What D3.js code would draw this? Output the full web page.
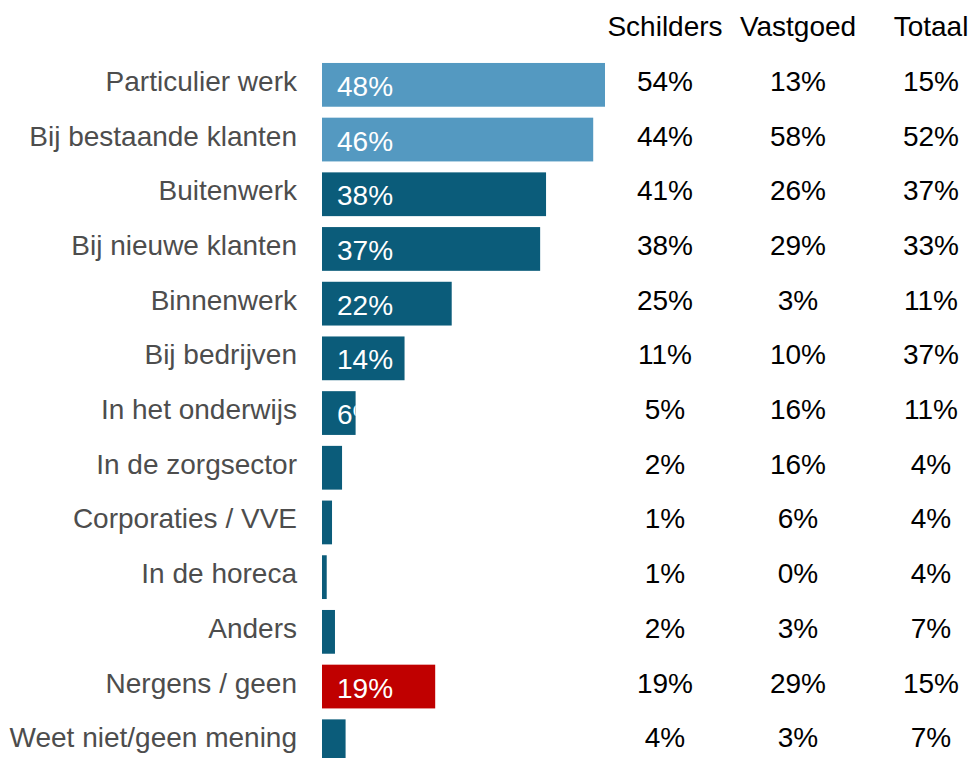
<!DOCTYPE html>
<html>
<head>
<meta charset="utf-8">
<script src="https://cdn.jsdelivr.net/npm/d3@7"></script>
<style>
  body { margin: 0; background: #fff; }
  svg { display: block; font-family: "Liberation Sans", Arial, sans-serif; }
</style>
</head>
<body>
<div id="chart"></div>
<script>
// data
const categories = ["Particulier werk", "Bij bestaande klanten", "Buitenwerk", "Bij nieuwe klanten",
  "Binnenwerk", "Bij bedrijven", "In het onderwijs", "In de zorgsector", "Corporaties / VVE",
  "In de horeca", "Anders", "Nergens / geen", "Weet niet/geen mening"];
const barValues = [48, 46, 38, 37, 22, 14, 5.7, 3.4, 1.7, 0.8, 2.2, 19.2, 4];
const columns = ["Schilders", "Vastgoed", "Totaal"];
const schilders = [54, 44, 41, 38, 25, 11, 5, 2, 1, 1, 2, 19, 4];
const vastgoed = [13, 58, 26, 29, 3, 10, 16, 16, 6, 0, 3, 29, 3];
const totaal = [15, 52, 37, 33, 11, 37, 11, 4, 4, 4, 7, 15, 7];
const lightCats = ["Particulier werk", "Bij bestaande klanten"];
const redCats = ["Nergens / geen"];

const width = 971, height = 758;
const fontSize = 28;
const step = 54.7;

const svg = d3.select("#chart").append("svg")
  .attr("width", width).attr("height", height);

const y = d3.scaleBand()
  .domain(categories)
  .range([57.5, 57.5 + step * categories.length])
  .paddingInner(0.2).paddingOuter(0.1);

const x = d3.scaleLinear().domain([0, 48]).range([322, 605]);

const color = c => redCats.includes(c) ? "#c00000"
  : lightCats.includes(c) ? "#5499c1" : "#0b5c7a";

const rows = categories.map((c, i) => ({ cat: c, v: barValues[i], i }));

// clip paths so labels are cut at the bar end
const defs = svg.append("defs");
defs.selectAll("clipPath").data(rows).join("clipPath")
  .attr("id", d => "clip" + d.i)
  .append("rect")
  .attr("x", x(0)).attr("y", d => y(d.cat))
  .attr("width", d => x(d.v) - x(0)).attr("height", y.bandwidth());

// category labels
svg.append("g").selectAll("text").data(rows).join("text")
  .attr("x", 297)
  .attr("y", d => y(d.cat) + y.bandwidth() / 2 + 6)
  .attr("text-anchor", "end")
  .attr("font-size", fontSize)
  .attr("fill", "#4d4d4d")
  .text(d => d.cat);

// bars
svg.append("g").selectAll("rect").data(rows).join("rect")
  .attr("x", x(0))
  .attr("y", d => y(d.cat))
  .attr("width", d => x(d.v) - x(0))
  .attr("height", y.bandwidth())
  .attr("fill", d => color(d.cat));

// labels in bars (only for bars of 5% or more)
svg.append("g").selectAll("text").data(rows.filter(d => d.v >= 5)).join("text")
  .attr("clip-path", d => `url(#clip${d.i})`)
  .attr("x", x(0) + 15)
  .attr("y", d => y(d.cat) + y.bandwidth() / 2 + 11)
  .attr("font-size", fontSize)
  .attr("fill", "#fff")
  .text(d => Math.round(d.v) + "%");

// table columns
const colX = d3.scalePoint().domain(columns).range([665, 931]);
const colData = [schilders, vastgoed, totaal];

svg.append("g").selectAll("text").data(columns).join("text")
  .attr("x", d => colX(d))
  .attr("y", 36)
  .attr("text-anchor", "middle")
  .attr("font-size", fontSize)
  .attr("fill", "#000")
  .text(d => d);

columns.forEach((col, j) => {
  svg.append("g").selectAll("text").data(colData[j]).join("text")
    .attr("x", colX(col))
    .attr("y", (d, i) => y(categories[i]) + y.bandwidth() / 2 + 6)
    .attr("text-anchor", "middle")
    .attr("font-size", fontSize)
    .attr("fill", "#000")
    .text(d => d + "%");
});
</script>
</body>
</html>
